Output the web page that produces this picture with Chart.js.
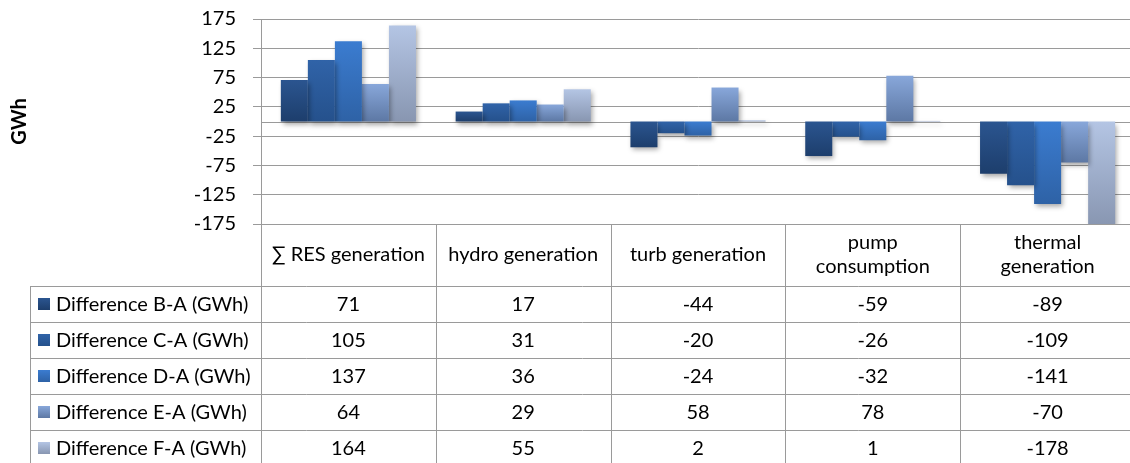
<!DOCTYPE html>
<html>
<head>
<meta charset="utf-8">
<script src="https://cdn.jsdelivr.net/npm/chart.js@4/dist/chart.umd.min.js"></script>
<style>
  html, body { margin: 0; padding: 0; overflow: hidden; background: #fff; }
  canvas { display: block; }
</style>
</head>
<body>
<canvas id="grafico" width="1136" height="463"></canvas>
<script>
// categorias (cabecalho da tabela, com quebra de linha)
const categorias = ['∑ RES generation', 'hydro generation', 'turb generation', ['pump', 'consumption'], ['thermal', 'generation']];
const series = ['Difference B-A (GWh)', 'Difference C-A (GWh)', 'Difference D-A (GWh)', 'Difference E-A (GWh)', 'Difference F-A (GWh)'];
const difBA = [71, 17, -44, -59, -89];
const difCA = [105, 31, -20, -26, -109];
const difDA = [137, 36, -24, -32, -141];
const difEA = [64, 29, 58, 78, -70];
const difFA = [164, 55, 2, 1, -178];
const ticksY = [175, 125, 75, 25, -25, -75, -125, -175];

// topo / base do degrade de cada serie
const cores = [
    ['#2b5590', '#1d3e6c'],
    ['#3063a8', '#25518c'],
    ['#3b7cd0', '#2e62a6'],
    ['#88a7da', '#5d78a4'],
    ['#b4c5e4', '#8896b1'],
];

const corLinha = '#9a9a9a';
const fonte = 'Lato, "Liberation Sans", sans-serif';
const tamFonte = 20;

function degrade(par) {
    return function(context) {
        const chart = context.chart;
        if (!chart.chartArea || context.raw === undefined) {
            return par[0];
        }
        const y = chart.scales.y;
        const v = context.raw;
        const topo = y.getPixelForValue(Math.max(v, 0));
        let base = y.getPixelForValue(Math.min(v, 0));
        if (base - topo < 1) base = topo + 1;
        const g = chart.ctx.createLinearGradient(0, topo, 0, base);
        g.addColorStop(0, par[0]);
        g.addColorStop(1, par[1]);
        return g;
    };
}

// linha do zero + sombra das barras
const sombra = {
    id: 'sombra',
    beforeDatasetsDraw(chart) {
        const ctx = chart.ctx;
        const y0 = Math.round(chart.scales.y.getPixelForValue(0)) + 0.5;
        ctx.save();
        ctx.strokeStyle = corLinha;
        ctx.lineWidth = 1;
        ctx.beginPath();
        ctx.moveTo(chart.chartArea.left, y0);
        ctx.lineTo(chart.chartArea.right, y0);
        ctx.stroke();
        ctx.restore();
        ctx.save();
        ctx.shadowColor = 'rgba(0,0,0,0.35)';
        ctx.shadowBlur = 5;
        ctx.shadowOffsetX = 2;
        ctx.shadowOffsetY = 3;
    },
    afterDatasetsDraw(chart) {
        chart.ctx.restore();
    }
};

// tabela de dados abaixo do grafico
const tabela = {
    id: 'tabela',
    afterDraw(chart) {
        const ctx = chart.ctx;
        const x = chart.scales.x;
        const area = chart.chartArea;
        const larg = x.getPixelForValue(1) - x.getPixelForValue(0);
        const topo = area.bottom;
        const altCab = 62;
        const altLin = 36;
        const esq = 30;
        const fundo = chart.height + 10;
        const valores = [difBA, difCA, difDA, difEA, difFA];
        const px = v => Math.round(v) + 0.5;

        ctx.save();
        ctx.strokeStyle = corLinha;
        ctx.lineWidth = 1;
        ctx.beginPath();
        ctx.moveTo(area.left - 8, px(topo));
        ctx.lineTo(area.right, px(topo));
        for (let i = 0; i <= categorias.length; i++) {
            const xx = px(x.getPixelForValue(i) - larg / 2);
            ctx.moveTo(xx, topo);
            ctx.lineTo(xx, fundo);
        }
        for (let r = 0; r < series.length; r++) {
            const yy = px(topo + altCab + r * altLin);
            ctx.moveTo(esq, yy);
            ctx.lineTo(area.right, yy);
        }
        ctx.moveTo(px(esq), topo + altCab);
        ctx.lineTo(px(esq), fundo);
        ctx.stroke();

        ctx.fillStyle = '#000';
        ctx.font = tamFonte + 'px ' + fonte;
        ctx.textAlign = 'center';
        ctx.textBaseline = 'middle';
        categorias.forEach(function(c, i) {
            const cx = x.getPixelForValue(i);
            const linhas = Array.isArray(c) ? c : [c];
            const meio = topo + altCab / 2;
            linhas.forEach(function(l, k) {
                ctx.fillText(l, cx, meio + (k - (linhas.length - 1) / 2) * 24);
            });
        });

        series.forEach(function(s, r) {
            const meio = topo + altCab + r * altLin + altLin / 2;
            const g = ctx.createLinearGradient(0, meio - 6, 0, meio + 6);
            g.addColorStop(0, cores[r][0]);
            g.addColorStop(1, cores[r][1]);
            ctx.fillStyle = g;
            ctx.fillRect(38, Math.round(meio - 6), 12, 12);
            ctx.fillStyle = '#000';
            ctx.textAlign = 'left';
            ctx.fillText(s, 56, meio + 1);
            ctx.textAlign = 'center';
            valores[r].forEach(function(v, i) {
                ctx.fillText(String(v), x.getPixelForValue(i), meio + 1);
            });
        });
        ctx.restore();
    }
};

const listas = [difBA, difCA, difDA, difEA, difFA];
const datasets = series.map(function(s, i) {
    return {
        label: s,
        data: listas[i],
        backgroundColor: degrade(cores[i]),
        borderWidth: 0,
        barPercentage: 1.0,
        categoryPercentage: 0.773,
    };
});

const ctx = document.getElementById('grafico').getContext('2d');
const myChart = new Chart(ctx, {
    type: 'bar',
    data: {
        labels: categorias.map(c => Array.isArray(c) ? c.join(' ') : c),
        datasets: datasets,
    },
    plugins: [sombra, tabela],
    options: {
        responsive: false,
        animation: false,
        layout: {
            padding: { left: 0, top: 19, right: 1, bottom: 239 }
        },
        plugins: {
            legend: { display: false },
            tooltip: { enabled: false },
        },
        scales: {
            x: {
                display: false,
            },
            y: {
                min: -175,
                max: 175,
                afterFit: function(scale) {
                    scale.width = 261;
                    scale.paddingTop = 0;
                    scale.paddingBottom = 0;
                },
                afterBuildTicks: function(scale) {
                    scale.ticks = ticksY.map(v => ({ value: v }));
                },
                grid: {
                    color: corLinha,
                    tickColor: corLinha,
                    tickLength: 8,
                },
                border: { display: true, color: corLinha },
                ticks: {
                    padding: 17,
                    color: '#000',
                    font: { family: fonte, size: tamFonte },
                },
                title: {
                    display: true,
                    text: 'GWh',
                    color: '#000',
                    padding: { top: 8, bottom: 0 },
                    font: { family: fonte, size: tamFonte, weight: 'bold' },
                },
            },
        },
    },
});
</script>
</body>
</html>
